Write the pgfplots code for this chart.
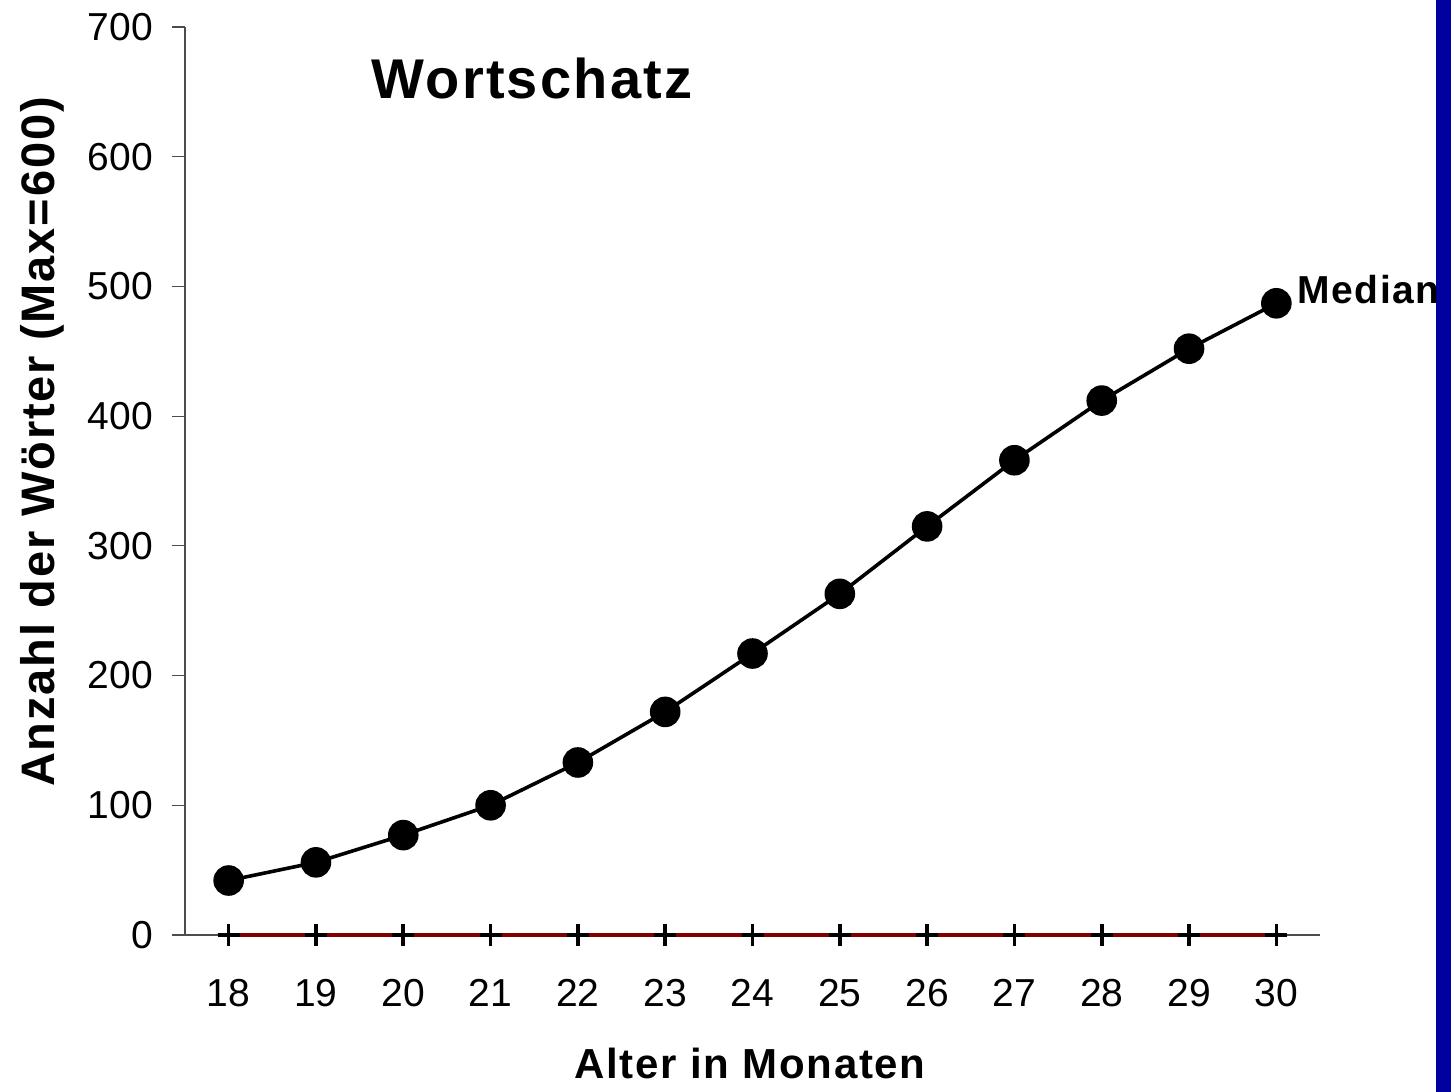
\documentclass[border=0pt]{standalone}
\usepackage{fontspec}
\setmainfont{Liberation Sans}
\newfontfamily\trackbold[LetterSpace=4]{Liberation Sans Bold}
\usepackage{pgfplots}
\pgfplotsset{compat=1.18}
\definecolor{barblue}{RGB}{0,0,160}
\definecolor{darkred}{RGB}{128,0,0}
\begin{document}
\begin{tikzpicture}
\useasboundingbox (0,0) rectangle (725.5pt,546pt);
\begin{axis}[
  at={(92.5pt,78.5pt)}, anchor=south west,
  scale only axis, width=567.5pt, height=454pt,
  xmin=17.5, xmax=30.5, ymin=0, ymax=700,
  axis x line=bottom, axis y line=left,
  axis line style={-, draw=black!70, line width=0.6pt},
  xtick={18,...,30}, ytick={0,100,...,700},
  tick align=outside, major tick length=6.5pt,
  x tick style={draw=none},
  y tick style={draw=black!70, line width=0.6pt},
  /pgf/number format/assume math mode=true,
  tick label style={font=\fontsize{19.5}{22}\selectfont},
  xticklabel style={yshift=-12pt},
  yticklabel style={xshift=-6pt},
  clip=false,
]
\addplot[darkred, line width=1.8pt, mark=+, mark size=5.5pt,
  mark options={black, line width=1.8pt}] coordinates {
(18,0)(19,0)(20,0)(21,0)(22,0)(23,0)(24,0)(25,0)(26,0)(27,0)(28,0)(29,0)(30,0)};
\addplot[black, line width=1.8pt, mark=*, mark size=6.75pt] coordinates {
(18,42)(19,56)(20,77)(21,100)(22,133)(23,172)(24,217)(25,263)(26,315)(27,366)(28,412)(29,452)(30,487)};
\end{axis}
\fill[barblue] (718pt,0) rectangle (725.5pt,546pt);
\node[font=\trackbold\fontsize{28}{32}\selectfont] at (266pt,507pt) {Wortschatz};
\node[font=\trackbold\fontsize{21}{25}\selectfont] at (375pt,14.5pt) {Alter in Monaten};
\node[font=\trackbold\fontsize{23.5}{27}\selectfont, rotate=90] at (21pt,325pt) {Anzahl der Wörter (Max=600)};
\node[font=\trackbold\fontsize{19.5}{22}\selectfont, anchor=west, inner sep=0pt] at (648.5pt,401pt) {Median};
\end{tikzpicture}
\end{document}
